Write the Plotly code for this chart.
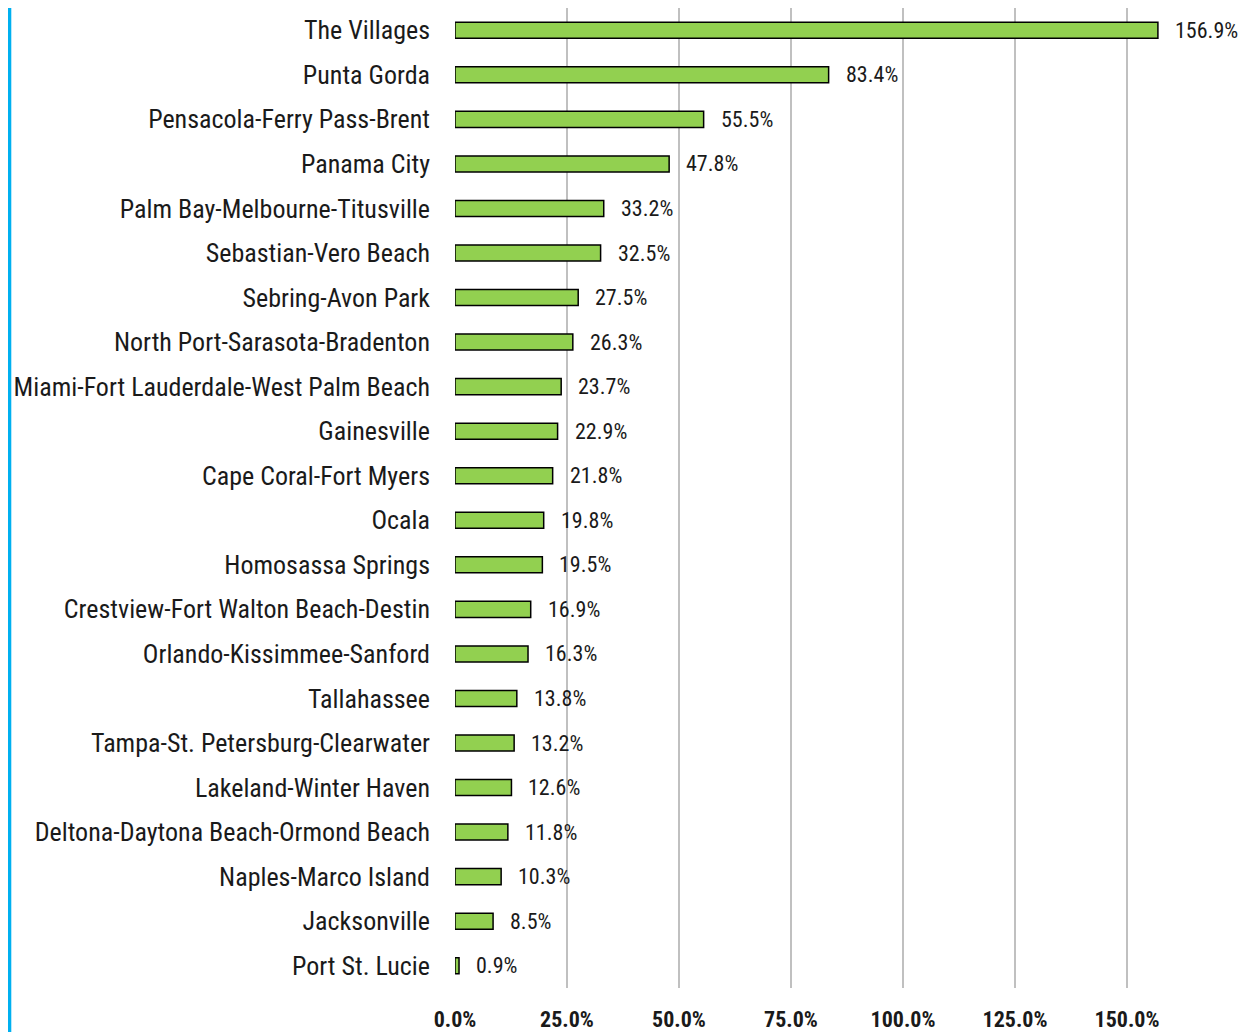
import plotly.graph_objects as go

categories = ["The Villages", "Punta Gorda", "Pensacola-Ferry Pass-Brent", "Panama City",
              "Palm Bay-Melbourne-Titusville", "Sebastian-Vero Beach", "Sebring-Avon Park",
              "North Port-Sarasota-Bradenton", "Miami-Fort Lauderdale-West Palm Beach",
              "Gainesville", "Cape Coral-Fort Myers", "Ocala", "Homosassa Springs",
              "Crestview-Fort Walton Beach-Destin", "Orlando-Kissimmee-Sanford", "Tallahassee",
              "Tampa-St. Petersburg-Clearwater", "Lakeland-Winter Haven",
              "Deltona-Daytona Beach-Ormond Beach", "Naples-Marco Island", "Jacksonville",
              "Port St. Lucie"]
values = [156.9, 83.4, 55.5, 47.8, 33.2, 32.5, 27.5, 26.3, 23.7, 22.9, 21.8, 19.8, 19.5,
          16.9, 16.3, 13.8, 13.2, 12.6, 11.8, 10.3, 8.5, 0.9]
tick_vals = [0, 25, 50, 75, 100, 125, 150]
tick_text = ["0.0%", "25.0%", "50.0%", "75.0%", "100.0%", "125.0%", "150.0%"]

FONT = "Liberation Sans Narrow, Arial Narrow, Roboto Condensed, Liberation Sans, sans-serif"

fig = go.Figure(go.Bar(
    x=values, y=categories, orientation="h",
    marker=dict(color="#92d050", line=dict(color="#000000", width=1.5)),
    width=0.36,
    textposition="none",
))

for c, v in zip(categories, values):
    fig.add_annotation(x=v, y=c, text=f"{v:.1f}%", showarrow=False, xanchor="left",
                       xshift=15, font=dict(family=FONT, size=22, color="#1a1a1a"))

fig.add_shape(type="line", xref="paper", yref="paper", x0=-0.5685, x1=-0.5685, y0=-0.06, y1=1.02,
              line=dict(color="#00b0f0", width=4))

fig.update_layout(
    width=1243, height=1024,
    margin=dict(l=447, r=12, t=0, b=42),
    paper_bgcolor="white", plot_bgcolor="white",
    showlegend=False,
    font=dict(family=FONT, color="#1a1a1a"),
)
fig.update_yaxes(autorange="reversed", tickfont=dict(family=FONT, size=26, color="#1a1a1a"),
                 ticks="", ticklabelstandoff=24, showgrid=False, showline=False)
fig.update_xaxes(range=[0, 175], tickvals=tick_vals, ticktext=tick_text,
                 tickfont=dict(family=FONT, size=22, color="#1a1a1a", weight="bold"),
                 showgrid=True, gridcolor="#c0c0c0", gridwidth=1.5, zeroline=False,
                 showline=False, ticks="", ticklabelstandoff=16)

fig.write_html("out.html")
